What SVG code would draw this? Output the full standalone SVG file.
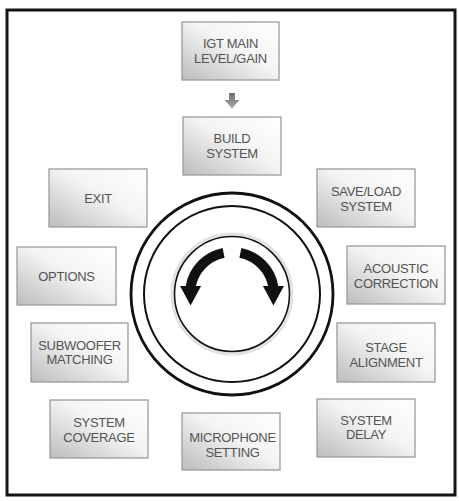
<svg xmlns="http://www.w3.org/2000/svg" width="459" height="501" viewBox="0 0 459 501">
<defs>
<linearGradient id="boxg" x1="1" y1="0" x2="0" y2="1">
<stop offset="0" stop-color="#ffffff"/>
<stop offset="0.45" stop-color="#f4f4f4"/>
<stop offset="1" stop-color="#bcbcbc"/>
</linearGradient>
<linearGradient id="arrg" x1="0" y1="0" x2="0" y2="1">
<stop offset="0" stop-color="#6e6e6e"/>
<stop offset="1" stop-color="#a8a8a8"/>
</linearGradient>
<radialGradient id="ringg" cx="0.5" cy="0.5" r="0.5">
<stop offset="0.6" stop-color="#ffffff"/>
<stop offset="0.7" stop-color="#ececec"/>
<stop offset="0.8" stop-color="#ffffff"/>
<stop offset="0.95" stop-color="#f4f4f4"/>
<stop offset="1" stop-color="#e2e2e2"/>
</radialGradient>
</defs>
<style>
.box{fill:url(#boxg);stroke:#9c9c9c;stroke-width:1.3}
.lbl{font-family:"Liberation Sans",Arial,sans-serif;font-size:13px;fill:#545454;text-anchor:middle;letter-spacing:-0.3px}
.ring{fill:none;stroke:#111}
.carrow{fill:none;stroke:#111;stroke-width:10}
</style>
<rect width="459" height="501" fill="#ffffff"/>
<rect x="7" y="10" width="448" height="485" fill="none" stroke="#141414" stroke-width="3"/>

<g id="dial">
<circle cx="232" cy="294" r="101" fill="#ffffff" class="ring" stroke-width="2.8"/>
<circle cx="232" cy="294" r="88" fill="url(#ringg)" class="ring" stroke-width="2"/>
<circle cx="232" cy="294" r="60" fill="none" stroke="#e2e2e2" stroke-width="3"/>
<circle cx="232" cy="294" r="57.5" fill="#ffffff" class="ring" stroke-width="1.6"/>
<path class="carrow" d="M223.6 252.8 A42 42 0 0 0 190.6 287"/>
<polygon points="180.1,286 201.1,286 190.6,305.5" fill="#111"/>
<path class="carrow" d="M240.4 252.8 A42 42 0 0 1 273.4 287"/>
<polygon points="262.9,286 283.9,286 273.4,305.5" fill="#111"/>
</g>

<g id="connectors">
<polygon points="229,93 235,93 235,100 239.5,100 232,108.5 224.5,100 229,100" fill="url(#arrg)"/>
</g>

<g id="igt-main">
<rect class="box" x="182" y="22" width="97" height="58"/>
<text class="lbl" x="230.5" y="48">IGT MAIN</text>
<text class="lbl" x="230.5" y="63">LEVEL/GAIN</text>
</g>
<g id="build-system">
<rect class="box" x="183" y="117" width="98" height="58"/>
<text class="lbl" x="232" y="143">BUILD</text>
<text class="lbl" x="232" y="158">SYSTEM</text>
</g>
<g id="exit">
<rect class="box" x="49" y="169" width="98" height="58"/>
<text class="lbl" x="98" y="203">EXIT</text>
</g>
<g id="save-load">
<rect class="box" x="317" y="169" width="98" height="58"/>
<text class="lbl" x="366" y="196">SAVE/LOAD</text>
<text class="lbl" x="366" y="211">SYSTEM</text>
</g>
<g id="options">
<rect class="box" x="17" y="247" width="99" height="58"/>
<text class="lbl" x="66.5" y="281">OPTIONS</text>
</g>
<g id="acoustic">
<rect class="box" x="347" y="246" width="98" height="58"/>
<text class="lbl" x="396" y="273">ACOUSTIC</text>
<text class="lbl" x="396" y="288">CORRECTION</text>
</g>
<g id="subwoofer">
<rect class="box" x="31" y="323" width="97" height="59"/>
<text class="lbl" x="79.5" y="350">SUBWOOFER</text>
<text class="lbl" x="79.5" y="364">MATCHING</text>
</g>
<g id="stage">
<rect class="box" x="337" y="323" width="98" height="59"/>
<text class="lbl" x="386" y="352">STAGE</text>
<text class="lbl" x="386" y="367">ALIGNMENT</text>
</g>
<g id="system-coverage">
<rect class="box" x="50" y="400" width="98" height="58"/>
<text class="lbl" x="99" y="427">SYSTEM</text>
<text class="lbl" x="99" y="442">COVERAGE</text>
</g>
<g id="microphone">
<rect class="box" x="182" y="413" width="98" height="57"/>
<text class="lbl" x="232.5" y="442">MICROPHONE</text>
<text class="lbl" x="232.5" y="457">SETTING</text>
</g>
<g id="system-delay">
<rect class="box" x="317" y="399" width="98" height="58"/>
<text class="lbl" x="366" y="425">SYSTEM</text>
<text class="lbl" x="366" y="439">DELAY</text>
</g>
</svg>
